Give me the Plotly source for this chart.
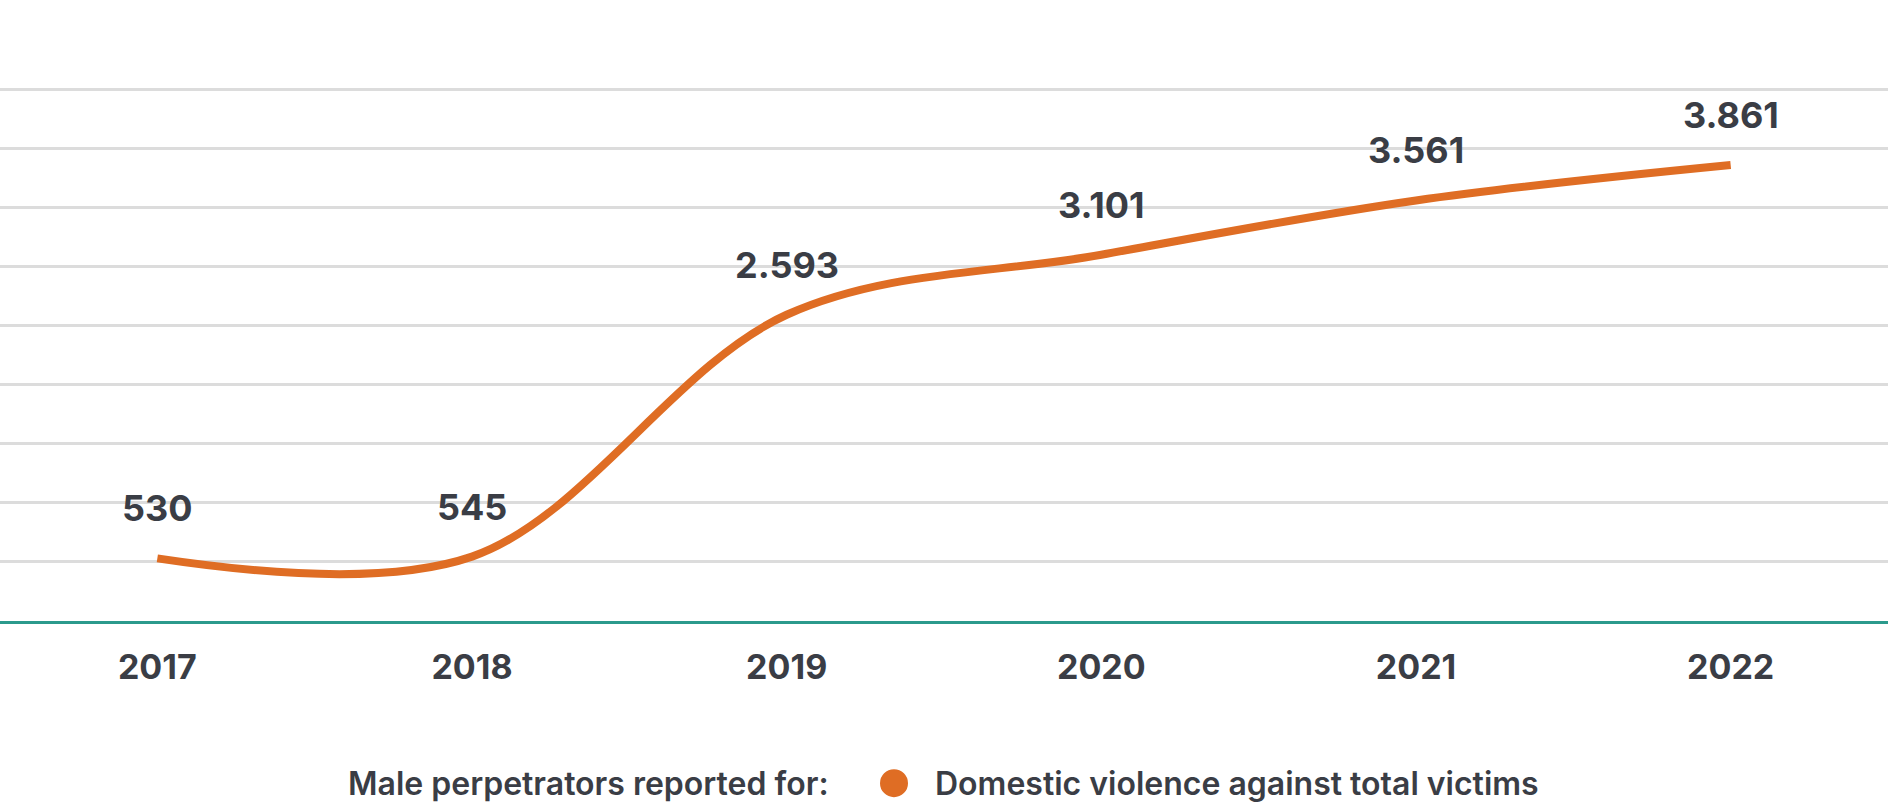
import plotly.graph_objects as go

years = [2017, 2018, 2019, 2020, 2021, 2022]
victims = [530, 545, 2593, 3101, 3561, 3861]
series_name = "Domestic violence against total victims"
legend_title = "Male perpetrators reported for:"
tick_labels = [str(y) for y in years]

ORANGE = "#DF6D24"
TEXT = "#3A3D45"
TEAL = "#2B9A8C"
GRID = "#DCDCDC"
FONT = "Inter"

W, H = 1888, 803
Y_MAX = 4530
BOTTOM = 621          # pixel row of the baseline
TOP_GRID = 90         # pixel row of the 4500 gridline
plot_h = (BOTTOM - TOP_GRID) * Y_MAX / 4500
MB = H - BOTTOM
MT = H - MB - plot_h

fig = go.Figure()
fig.add_trace(go.Scatter(
    x=years, y=victims, name=series_name,
    mode="lines",
    line=dict(color=ORANGE, width=8, shape="spline", smoothing=1),
    showlegend=False,
    hoverinfo="skip",
))

annotations = []
for xv, yv in zip(years, victims):
    annotations.append(dict(
        x=xv, y=yv, xref="x", yref="y",
        text=f"{yv:,}".replace(",", "."),
        showarrow=False, yshift=50, yanchor="middle", xanchor="center",
        font=dict(family=FONT, size=36, color=TEXT, weight=700),
    ))

leg_y = -(783 - BOTTOM) / plot_h
annotations.append(dict(
    x=831 / W, y=leg_y, xref="paper", yref="paper",
    text=legend_title, showarrow=False, xanchor="right", yanchor="middle",
    font=dict(family=FONT, size=32, color=TEXT, weight=600),
))
annotations.append(dict(
    x=933 / W, y=leg_y, xref="paper", yref="paper",
    text=series_name, showarrow=False, xanchor="left", yanchor="middle",
    font=dict(family=FONT, size=32, color=TEXT, weight=600),
))

shapes = [dict(
    type="circle", xref="paper", yref="paper",
    xsizemode="pixel", ysizemode="pixel",
    xanchor=894 / W, yanchor=leg_y,
    x0=-14, x1=14, y0=-14, y1=14,
    fillcolor=ORANGE, line=dict(width=0),
)]

fig.update_layout(
    width=W, height=H,
    margin=dict(l=0, r=0, t=MT, b=MB),
    paper_bgcolor="white", plot_bgcolor="white",
    showlegend=False,
    annotations=annotations,
    shapes=shapes,
    xaxis=dict(
        range=[2016.5, 2022.5],
        tickvals=years, ticktext=tick_labels,
        showgrid=False, zeroline=False,
        showline=True, linecolor=TEAL, linewidth=3,
        ticks="", ticklabelstandoff=14,
        tickfont=dict(family=FONT, size=34, color=TEXT, weight=700),
        fixedrange=True,
    ),
    yaxis=dict(
        range=[0, Y_MAX], dtick=500,
        showgrid=True, gridcolor=GRID, gridwidth=2.5,
        zeroline=False, showticklabels=False, showline=False,
        fixedrange=True,
    ),
)

fig.write_html(
    "out.html",
    config={"displayModeBar": False},
    post_script="document.body.style.margin='0px';document.body.style.overflow='hidden';",
)
